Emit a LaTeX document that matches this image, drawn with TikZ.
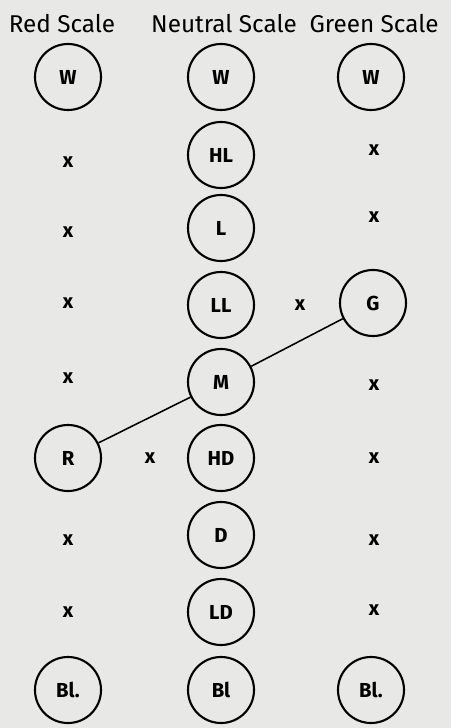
\documentclass[tikz,border=0pt]{standalone}
\usepackage{fontspec}
\setmainfont{Fira Sans}
\usetikzlibrary{positioning}
\definecolor{paper}{RGB}{232,232,230}
\tikzset{
  tone/.style={circle,draw,line width=1.5pt,minimum size=1.65cm,inner sep=0pt,font=\Large\bfseries},
  cross/.style={inner sep=1pt,font=\Large\bfseries},
  heading/.style={font=\LARGE}
}

\begin{document}
\begin{tikzpicture}[x=0.025cm,y=-0.025cm]
    \fill[paper] (0,0) rectangle (451,728);
    \useasboundingbox (0,0) rectangle (451,728);
    % column headings
    \node[heading] (hred) at (62,24) {Red Scale};
    \node[heading] (hneu) at (224,24) {Neutral Scale};
    \node[heading] (hgrn) at (374,24) {Green Scale};
    % neutral scale, white to black
    \foreach \lab/\y in {W/77,HL/155,L/228,LL/305,M/382,HD/458,D/535,LD/612,Bl/690}
      \node[tone] (n\lab) at (221,\y) {\lab};
    % red scale
    \node[tone] (rW) at (68,77) {W};
    \node[tone] (rR) at (68,458) {R};
    \node[tone] (rBl) at (68,690) {Bl.};
    \foreach \y [count=\i] in {162,232,303,378,540,612}
      \node[cross] (rx\i) at (68,\y) {x};
    % green scale
    \node[tone] (gW) at (371,77) {W};
    \node[tone] (gG) at (373,303) {G};
    \node[tone] (gBl) at (371,690) {Bl.};
    \foreach \y [count=\i] in {150,217,385,458,540,610}
      \node[cross] (gx\i) at (374,\y) {x};
    % steps between the hues and the neutral
    \node[cross] (mx1) at (300,305) {x};
    \node[cross] (mx2) at (150,458) {x};
    \draw[line width=1.1pt] (rR) -- (nM) -- (gG);
\end{tikzpicture}
\end{document}
